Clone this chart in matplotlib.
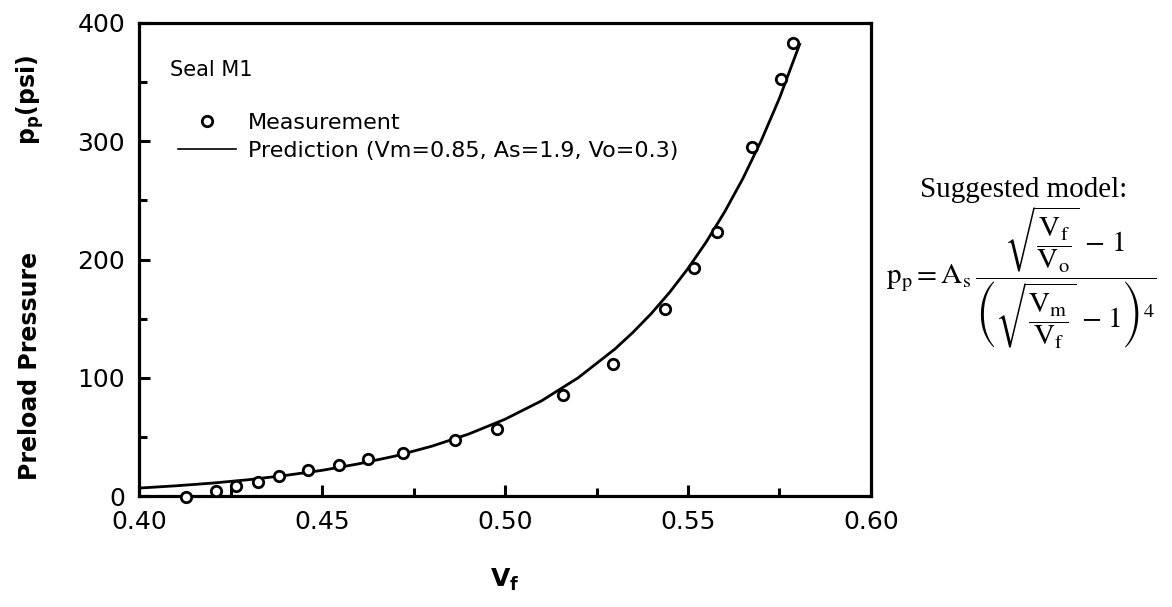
import matplotlib
matplotlib.use("Agg")
import matplotlib.pyplot as plt
from matplotlib.ticker import MultipleLocator

# ── data ──────────────────────────────────────────────────────────────────
meas_vf = [0.4128, 0.421, 0.4265, 0.4324, 0.4382, 0.4463, 0.4547, 0.4627,
           0.4722, 0.4863, 0.4977, 0.5159, 0.5296, 0.5437, 0.5517, 0.5578,
           0.5676, 0.5754, 0.5788]
meas_pp = [-1, 4, 8.5, 12, 17, 22, 26, 31, 36, 47, 56.5, 85, 112, 158, 193,
           223, 295, 353, 383]

pred_vf = [0.40, 0.41, 0.42, 0.43, 0.44, 0.45, 0.46, 0.47, 0.48, 0.49, 0.50,
           0.51, 0.52, 0.53, 0.535, 0.54, 0.545, 0.55, 0.555, 0.56, 0.565,
           0.57, 0.575, 0.5805]
pred_pp = [6.7, 8.6, 10.9, 13.8, 17.4, 21.7, 27.2, 33.8, 42.1, 52.3, 64.9,
           80.5, 100.0, 124.2, 138.5, 154.4, 172.3, 192.4, 214.9, 240.2, 268.5,
           300.5, 336.5, 382.0]

x_ticks = [0.40, 0.45, 0.50, 0.55, 0.60]
y_ticks = [0, 100, 200, 300, 400]

W, H = 1172, 607
fig = plt.figure(figsize=(W / 100, H / 100), dpi=100)
ax = fig.add_axes([139 / W, 1 - 496 / H, (871 - 139) / W, (496 - 23) / H])

ax.plot(pred_vf, pred_pp, color="black", lw=2.0, label="Prediction (Vm=0.85, As=1.9, Vo=0.3)")
ax.plot(meas_vf, meas_pp, "o", ms=7.5, mfc="white", mec="black", mew=2.0,
        clip_on=False, zorder=5, label="Measurement")

ax.set_xlim(0.40, 0.60)
ax.set_ylim(0, 400)
ax.set_xticks(x_ticks)
ax.set_yticks(y_ticks)
ax.xaxis.set_major_formatter(matplotlib.ticker.FormatStrFormatter("%.2f"))
ax.xaxis.set_minor_locator(MultipleLocator(0.025))
ax.yaxis.set_minor_locator(MultipleLocator(50))
ax.tick_params(which="both", direction="in", width=2.2, top=False, right=False)
ax.tick_params(which="major", length=8, labelsize=18, pad=10)
ax.tick_params(which="minor", length=6)
for sp in ax.spines.values():
    sp.set_linewidth(2.3)

ax.set_xlabel(r"$\mathbf{V_f}$", fontsize=18, labelpad=24)
# y label in two pieces, as laid out in the original
fig.text(30 / W, 1 - 366 / H, "Preload Pressure", rotation=90, ha="center",
         va="center", fontsize=17, fontweight="bold")
fig.text(30 / W, 1 - 100 / H, r"$\mathbf{p_p}$(psi)", rotation=90, ha="center",
         va="center", fontsize=17, fontweight="bold")

ax.text(0.042, 0.90, "Seal M1", transform=ax.transAxes, fontsize=15,
        ha="left", va="center")

h, l = ax.get_legend_handles_labels()
leg = ax.legend(h[::-1], l[::-1], loc="upper left", bbox_to_anchor=(0.053, 0.81),
                frameon=False, fontsize=16, handlelength=2.6, handletextpad=0.55,
                labelspacing=0.35, borderpad=0, borderaxespad=0)
leg.get_lines()[1].set_linewidth(1.2)

# suggested model on the right
fig.text(1024 / W, 1 - 190 / H, "Suggested model:", family="Liberation Serif",
         fontsize=21, ha="center", va="center")
plt.rcParams["mathtext.fontset"] = "stix"
fig.text(886 / W, 1 - 278 / H,
         r"$\mathrm{p_p = A_s}\,\dfrac{\sqrt{\dfrac{\mathrm{V_f}}{\mathrm{V_o}}}\ \mathrm{-\ 1}}"
         r"{\left(\sqrt{\dfrac{\mathrm{V_m}}{\mathrm{V_f}}}\ \mathrm{-\ 1}\right)^4}$",
         fontsize=21, ha="left", va="center")

fig.savefig("out.png", dpi=100)
